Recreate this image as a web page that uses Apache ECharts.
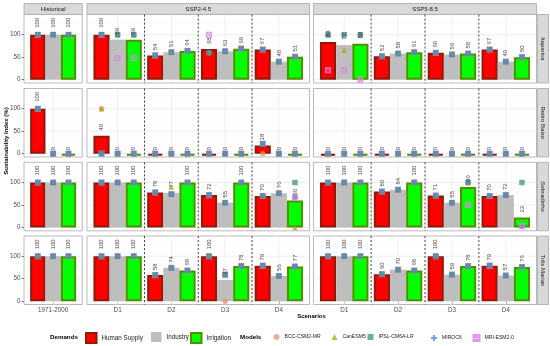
<!DOCTYPE html>
<html><head><meta charset="utf-8">
<script src="https://cdn.jsdelivr.net/npm/echarts@6/dist/echarts.min.js"></script>
<style>html,body{margin:0;padding:0;background:#fff}#c{width:550px;height:346px}</style>
</head><body><div id="c"></div>
<script>
// ---------------- DATA ----------------
const scenarios = ['Historical', 'SSP2-4.5', 'SSP5-8.5'];
const reservoirs = ['Itaparica', 'Retiro Baixo', 'Sobradinho', 'Três Marias'];
const histCategories = ['1971-2000'];
const sspCategories = ['D1', 'D2', 'D3', 'D4'];
const demands = ['Human Supply', 'Industry', 'Irrigation'];
const models = ['BCC-CSM2-MR', 'CanESM5', 'IPSL-CM6A-LR', 'MIROC6', 'MRI-ESM2-0'];
const yTicks = [0, 50, 100];

// value order in every array: [1971-2000, SSP2-4.5 D1, D2, D3, D4, SSP5-8.5 D1, D2, D3, D4]
// mean sustainability index (bar height and label)
const itaparicaHuman      = [100, 100, 54, 68, 67, 84, 52, 60, 67];
const itaparicaIndustry   = [100, 89, 61, 63, 40, 77, 58, 56, 40];
const itaparicaIrrigation = [100, 89, 64, 69, 51, 80, 61, 58, 50];
const retiroHuman         = [100, 40, 0, 0, 18, 0, 0, 0, 0];
const retiroIndustry      = [0, 0, 0, 0, 0, 0, 0, 0, 0];
const retiroIrrigation    = [0, 0, 0, 0, 0, 0, 0, 0, 0];
const sobradinhoHuman      = [100, 100, 78, 72, 70, 100, 80, 71, 70];
const sobradinhoIndustry   = [100, 100, 77, 55, 76, 100, 84, 55, 72];
const sobradinhoIrrigation = [100, 100, 100, 100, 60, 100, 100, 90, 22];
const tresMariasHuman      = [100, 100, 58, 100, 79, 100, 60, 100, 79];
const tresMariasIndustry   = [100, 100, 74, 47, 56, 100, 70, 59, 57];
const tresMariasIrrigation = [100, 100, 68, 78, 77, 100, 68, 78, 76];

// per-model values (rows: BCC-CSM2-MR, CanESM5, IPSL-CM6A-LR, MIROC6, MRI-ESM2-0)
const itaparicaHumanModels = [
  [100, 100, 54, 60, 67, 100, 52, 60, 67],
  [100, 100, 54, 60, 67, 100, 52, 60, 67],
  [100, 100, 54, 60, 67, 100, 52, 60, 67],
  [100, 100, 54, 60, 67, 100, 52, 60, 67],
  [100, 100, 54, 100, 67, 21, 52, 60, 67]];
const itaparicaIndustryModels = [
  [100, 100, 61, 63, 40, 100, 58, 56, 40],
  [100, 100, 61, 63, 40, 66, 58, 56, 40],
  [100, 100, 61, 63, 40, 100, 58, 56, 40],
  [100, 100, 61, 63, 40, 100, 58, 56, 40],
  [100, 48, 61, 63, 40, 21, 58, 56, 40]];
const itaparicaIrrigationModels = [
  [100, 100, 64, 69, 51, 100, 61, 58, 50],
  [100, 100, 64, 69, 51, 100, 61, 58, 50],
  [100, 100, 64, 69, 51, 100, 61, 58, 50],
  [100, 100, 64, 69, 51, 100, 61, 58, 50],
  [100, 48, 64, 69, 51, 0, 61, 58, 50]];
const retiroHumanModels = [
  [100, 100, 0, 0, 0, 0, 0, 0, 0],
  [100, 100, 0, 0, 22, 0, 0, 0, 0],
  [100, 0, 0, 0, 22, 0, 0, 0, 0],
  [100, 0, 0, 0, 22, 0, 0, 0, 0],
  [100, 0, 0, 0, 22, 0, 0, 0, 0]];
const retiroIndustryModels = [
  [0, 0, 0, 0, 0, 0, 0, 0, 0],
  [0, 0, 0, 0, 0, 0, 0, 0, 0],
  [0, 0, 0, 0, 0, 0, 0, 0, 0],
  [0, 0, 0, 0, 0, 0, 0, 0, 0],
  [0, 0, 0, 0, 0, 0, 0, 0, 0]];
const retiroIrrigationModels = [
  [0, 0, 0, 0, 0, 0, 0, 0, 0],
  [0, 0, 0, 0, 0, 0, 0, 0, 0],
  [0, 0, 0, 0, 0, 0, 0, 0, 0],
  [0, 0, 0, 0, 0, 0, 0, 0, 0],
  [0, 0, 0, 0, 0, 0, 0, 0, 0]];
const sobradinhoHumanModels = [
  [100, 100, 78, 72, 70, 100, 80, 71, 70],
  [100, 100, 78, 72, 70, 100, 80, 71, 70],
  [100, 100, 78, 72, 70, 100, 80, 71, 70],
  [100, 100, 78, 72, 70, 100, 80, 71, 70],
  [100, 100, 78, 72, 70, 100, 80, 71, 70]];
const sobradinhoIndustryModels = [
  [100, 100, 74, 55, 76, 100, 84, 55, 72],
  [100, 100, 90, 55, 76, 100, 84, 55, 72],
  [100, 100, 74, 55, 76, 100, 84, 55, 72],
  [100, 100, 74, 55, 76, 100, 84, 55, 72],
  [100, 100, 74, 55, 76, 100, 84, 55, 72]];
const sobradinhoIrrigationModels = [
  [100, 100, 100, 100, 67, 100, 100, 100, 3],
  [100, 100, 100, 100, 0, 100, 100, 100, 3],
  [100, 100, 100, 100, 100, 100, 100, 100, 100],
  [100, 100, 100, 100, 67, 100, 100, 100, 3],
  [100, 100, 100, 100, 67, 100, 100, 50, 3]];
const tresMariasHumanModels = [
  [100, 100, 58, 100, 79, 100, 60, 100, 79],
  [100, 100, 58, 100, 79, 100, 60, 100, 79],
  [100, 100, 58, 100, 79, 100, 60, 100, 79],
  [100, 100, 58, 100, 79, 100, 60, 100, 79],
  [100, 100, 58, 100, 79, 100, 60, 100, 79]];
const tresMariasIndustryModels = [
  [100, 100, 74, 0, 56, 100, 70, 59, 57],
  [100, 100, 74, 59, 56, 100, 70, 59, 57],
  [100, 100, 74, 59, 56, 100, 70, 59, 57],
  [100, 100, 74, 59, 56, 100, 70, 59, 57],
  [100, 100, 74, 59, 56, 100, 70, 59, 57]];
const tresMariasIrrigationModels = [
  [100, 100, 68, 78, 77, 100, 68, 78, 76],
  [100, 100, 68, 78, 77, 100, 68, 78, 76],
  [100, 100, 68, 78, 77, 100, 68, 78, 76],
  [100, 100, 68, 78, 77, 100, 68, 78, 76],
  [100, 100, 68, 78, 77, 100, 68, 78, 76]];

// ---------------- LAYOUT / STYLE ----------------
const meanByRow = [
  [itaparicaHuman, itaparicaIndustry, itaparicaIrrigation],
  [retiroHuman, retiroIndustry, retiroIrrigation],
  [sobradinhoHuman, sobradinhoIndustry, sobradinhoIrrigation],
  [tresMariasHuman, tresMariasIndustry, tresMariasIrrigation]];
const modelsByRow = [
  [itaparicaHumanModels, itaparicaIndustryModels, itaparicaIrrigationModels],
  [retiroHumanModels, retiroIndustryModels, retiroIrrigationModels],
  [sobradinhoHumanModels, sobradinhoIndustryModels, sobradinhoIrrigationModels],
  [tresMariasHumanModels, tresMariasIndustryModels, tresMariasIrrigationModels]];

const FONT = '"Liberation Sans", Arial, sans-serif';
const colX = [[24, 82.3], [87, 309.5], [313.5, 536.5]];
const colSlice = [[0, 1], [1, 5], [5, 9]];
const rowTop = [14.5, 88.5, 162.3, 236];
const rowH = 68.5;
const Y_MIN = -7.5, Y_MAX = 145;
const EXP = 0.57, DODGE = 0.3;
const demandColors = ['#FF0000', '#BEBEBE', '#00FF00'];
const demandBorders = ['#8E1A08', '#BEBEBE', '#4F8F00'];
const demandBorderW = [2, 0, 2];
const modelColors = ['#F08A6A', '#A3A500', '#2E8C78', '#5A8FE0', '#D88AE0'];
const modelSymbols = ['circle', 'triangle', 'rect',
  'path://M5,0L5,10M0,5L10,5',
  'path://M0,0L10,0L10,10L0,10ZM0,0L10,10M10,0L0,10'];
const modelStroke = [false, false, false, true, true];
const drawOrder = [0, 1, 4, 2, 3];

const grids = [], xAxes = [], yAxes = [], series = [];

function gridRender(params, api) {
  const cs = params.coordSys;
  const kind = api.value(0), v = api.value(1);
  if (kind < 2) {
    const y = api.coord([1, v])[1];
    return {type: 'line', shape: {x1: cs.x, y1: y, x2: cs.x + cs.width, y2: y},
      style: {stroke: kind === 0 ? '#EBEBEB' : '#F3F3F3', lineWidth: kind === 0 ? 0.8 : 0.5}};
  }
  const x = api.coord([v, 0])[0];
  if (kind === 2) return {type: 'line', shape: {x1: x, y1: cs.y, x2: x, y2: cs.y + cs.height},
    style: {stroke: '#EBEBEB', lineWidth: 0.8}};
  return {type: 'line', shape: {x1: x, y1: cs.y, x2: x, y2: cs.y + cs.height},
    style: {stroke: '#1a1a1a', lineWidth: 0.8, lineDash: [2.2, 1.8]}};
}

function barRender(d) {
  return function (params, api) {
    const cx = api.value(0), v = api.value(1);
    const p0 = api.coord([cx - DODGE / 2, 0]);
    const p1 = api.coord([cx + DODGE / 2, v]);
    const w = demandBorderW[d];
    return {type: 'rect',
      shape: {x: p0[0] + w / 2, y: p1[1] + w / 2, width: p1[0] - p0[0] - w, height: Math.max(0, p0[1] - p1[1] - w)},
      style: {fill: demandColors[d], stroke: w ? demandBorders[d] : null, lineWidth: w}};
  };
}

function labelRender(params, api) {
  const cx = api.value(0), v = api.value(1);
  const txt = String(Math.round(v));
  const p = api.coord([cx, v]);
  return {type: 'text', x: p[0], y: p[1], rotation: Math.PI / 2,
    style: {text: txt, x: 1.8 * txt.length + 1.5, y: 0, align: 'left', verticalAlign: 'middle',
      fontSize: 6, fontFamily: FONT, fill: '#4D4D4D'}};
}

for (let r = 0; r < 4; r++) {
  for (let c = 0; c < 3; c++) {
    const g = r * 3 + c;
    const cats = c === 0 ? histCategories : sspCategories;
    const n = cats.length;
    const [s0, s1] = colSlice[c];
    const ticks = cats.map((_, i) => i + 1);
    grids.push({left: colX[c][0], top: rowTop[r], width: colX[c][1] - colX[c][0], height: rowH,
      show: true, backgroundColor: '#fff', borderColor: '#A8A8A8', borderWidth: 0.8});
    xAxes.push({gridIndex: g, type: 'value', min: 1 - EXP, max: n + EXP,
      axisLine: {show: false}, splitLine: {show: false},
      axisTick: {show: r === 3, customValues: ticks, length: 2.5, lineStyle: {color: '#333', width: 0.6}},
      axisLabel: {show: r === 3, customValues: ticks, formatter: v => cats[Math.round(v) - 1],
        fontSize: 6.3, fontFamily: FONT, color: '#4D4D4D', margin: 3}});
    yAxes.push({gridIndex: g, type: 'value', min: Y_MIN, max: Y_MAX,
      axisLine: {show: false}, splitLine: {show: false},
      axisTick: {show: c === 0, customValues: yTicks, length: 2.5, lineStyle: {color: '#333', width: 0.6}},
      axisLabel: {show: c === 0, customValues: yTicks, fontSize: 6.3, fontFamily: FONT, color: '#4D4D4D', margin: 3.5}});

    const gl = [[0, 0], [0, 50], [0, 100], [1, 25], [1, 75], [1, 125]];
    ticks.forEach(t => gl.push([2, t]));
    series.push({type: 'custom', xAxisIndex: g, yAxisIndex: g, silent: true, z: 1,
      data: gl, renderItem: gridRender});
    const dl = [];
    for (let i = 1; i < n; i++) dl.push([3, i + 0.5]);
    if (dl.length) series.push({type: 'custom', xAxisIndex: g, yAxisIndex: g, silent: true, z: 5,
      data: dl, renderItem: gridRender});

    const labelData = [];
    for (let d = 0; d < 3; d++) {
      const vals = meanByRow[r][d].slice(s0, s1);
      const data = vals.map((v, i) => [i + 1 + (d - 1) * DODGE, v]);
      data.forEach(p => labelData.push(p));
      series.push({type: 'custom', name: demands[d], xAxisIndex: g, yAxisIndex: g, z: 2,
        itemStyle: {color: demandColors[d], borderColor: demandBorders[d], borderWidth: demandBorderW[d] ? 1.2 : 0},
        data: data, renderItem: barRender(d)});
    }
    drawOrder.forEach((m, k) => {
      const data = [];
      for (let d = 0; d < 3; d++) {
        modelsByRow[r][d][m].slice(s0, s1).forEach((v, i) => data.push([i + 1 + (d - 1) * DODGE, v]));
      }
      series.push({type: 'scatter', name: models[m], xAxisIndex: g, yAxisIndex: g, z: 3, zlevel: 0,
        symbol: modelSymbols[m], symbolSize: modelStroke[m] ? 5 : 5.5, silent: true,
        itemStyle: modelStroke[m]
          ? {color: 'rgba(0,0,0,0)', borderColor: modelColors[m], borderWidth: 1.1, opacity: 0.85}
          : {color: modelColors[m], opacity: 0.7},
        data: data});
    });
    series.push({type: 'custom', xAxisIndex: g, yAxisIndex: g, silent: true, z: 6,
      data: labelData, renderItem: labelRender});
  }
}

// legends: one component per entry for precise placement
const legends = [];
const demandLegendLeft = [85, 151, 190];
demands.forEach((d, i) => legends.push({left: demandLegendLeft[i], top: 332, padding: 0,
  itemWidth: 10.5, itemHeight: 10, selectedMode: false, data: [{name: d, icon: 'rect'}],
  textStyle: {fontSize: 6.3, fontFamily: FONT, color: '#1A1A1A'}}));
const modelLegendCenter = [276.5, 334.5, 370.5, 433, 475.5];
models.forEach((m, i) => legends.push({left: modelLegendCenter[i] - 3, top: 334, padding: 0,
  itemWidth: 6, itemHeight: 6, selectedMode: false, data: [m],
  textStyle: {fontSize: 5.1, fontFamily: FONT, color: '#1A1A1A'}}));

// strips and titles
const graphics = [];
scenarios.forEach((s, c) => {
  graphics.push({type: 'rect', silent: true, shape: {x: colX[c][0], y: 3.5, width: colX[c][1] - colX[c][0], height: 11},
    style: {fill: '#D9D9D9', stroke: '#A8A8A8', lineWidth: 0.8}});
  graphics.push({type: 'text', silent: true, x: (colX[c][0] + colX[c][1]) / 2, y: 9.2,
    style: {text: s, align: 'center', verticalAlign: 'middle', fontSize: 6, fontFamily: FONT, fill: '#1A1A1A'}});
});
reservoirs.forEach((name, r) => {
  graphics.push({type: 'rect', silent: true, shape: {x: 537.5, y: rowTop[r], width: 11, height: rowH},
    style: {fill: '#D9D9D9', stroke: '#A8A8A8', lineWidth: 0.8}});
  graphics.push({type: 'text', silent: true, x: 543, y: rowTop[r] + rowH / 2, rotation: -Math.PI / 2,
    style: {text: name, align: 'center', verticalAlign: 'middle', fontSize: 6, fontFamily: FONT, fill: '#1A1A1A'}});
});
graphics.push({type: 'text', silent: true, x: 6, y: 141, rotation: Math.PI / 2,
  style: {text: 'Sustainability Index (%)', align: 'center', verticalAlign: 'middle', fontSize: 6, fontWeight: 'bold', fontFamily: FONT, fill: '#000'}});
graphics.push({type: 'text', silent: true, x: 311.5, y: 316,
  style: {text: 'Scenarios', align: 'center', verticalAlign: 'middle', fontSize: 6, fontWeight: 'bold', fontFamily: FONT, fill: '#000'}});
graphics.push({type: 'text', silent: true, x: 50, y: 337,
  style: {text: 'Demands', align: 'left', verticalAlign: 'middle', fontSize: 6.2, fontWeight: 'bold', fontFamily: FONT, fill: '#000'}});
graphics.push({type: 'text', silent: true, x: 240, y: 337,
  style: {text: 'Models', align: 'left', verticalAlign: 'middle', fontSize: 6.2, fontWeight: 'bold', fontFamily: FONT, fill: '#000'}});

const chart = echarts.init(document.getElementById('c'), null, {renderer: 'canvas', width: 550, height: 346});
chart.setOption({
  animation: false,
  backgroundColor: '#fff',
  grid: grids, xAxis: xAxes, yAxis: yAxes, series: series,
  legend: legends, graphic: graphics
});
</script>
</body></html>
